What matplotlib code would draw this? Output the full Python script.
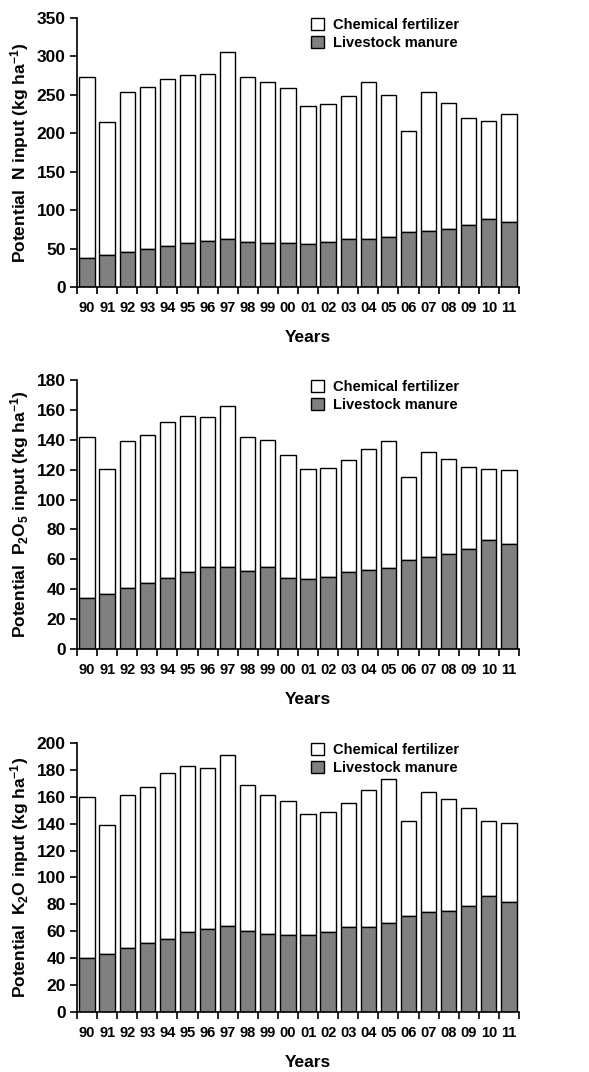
import matplotlib.pyplot as plt
import numpy as np

plt.rcParams['font.family'] = ['Liberation Sans', 'DejaVu Sans']
plt.rcParams['font.weight'] = 'bold'
plt.rcParams['mathtext.fontset'] = 'custom'
plt.rcParams['mathtext.bf'] = 'Liberation Sans:bold'
plt.rcParams['mathtext.rm'] = 'Liberation Sans:bold'
plt.rcParams['mathtext.default'] = 'bf'

years = ["90", "91", "92", "93", "94", "95", "96", "97", "98", "99", "00",
         "01", "02", "03", "04", "05", "06", "07", "08", "09", "10", "11"]

# totals (top of white bar) and manure part
n_total = [273, 215, 254, 260, 270, 276, 277, 305, 273, 266, 259,
           235, 238, 249, 266, 250, 203, 254, 239, 220, 216, 225]
n_manure = [38, 42, 46, 49, 53, 57, 60, 62, 59, 57, 57,
            56, 59, 62, 63, 65, 71, 73, 75, 80, 88, 84]

p_total = [141.5, 120.5, 139, 143, 152, 156, 155, 162.5, 141.5, 139.5, 129.5,
           120.5, 121, 126.5, 133.5, 139, 115, 131.5, 127, 121.5, 120.5, 119.5]
p_manure = [34.3, 36.7, 41, 44.3, 47.5, 51.7, 54.6, 55, 52.2, 54.6, 47.2,
            46.8, 48.4, 51.7, 52.6, 54.2, 59.3, 61.6, 63.6, 66.7, 73, 70.5]

k_total = [159.5, 139, 161.3, 167, 177.7, 183, 181.6, 190.8, 169, 161, 156.6,
           147, 149, 155, 164.8, 173, 142, 163.8, 158.6, 151.4, 142.2, 140.2]
k_manure = [40, 43, 47.4, 50.9, 54.6, 59.3, 62, 63.8, 60.3, 58, 57.3,
            57.3, 59.8, 63.3, 63.3, 65.8, 71.2, 74, 75, 79, 86, 82]

panels = [
    (n_total, n_manure, 350, 50, r"Potential  N input (kg ha$^{-1}$)", 0.7323),
    (p_total, p_manure, 180, 20, r"Potential  P$_2$O$_5$ input (kg ha$^{-1}$)", 0.3946),
    (k_total, k_manure, 200, 20, r"Potential  K$_2$O input (kg ha$^{-1}$)", 0.056),
]

fig = plt.figure(figsize=(5.89, 10.72), dpi=100)

for total, manure, ymax, step, ylabel, bottom in panels:
    ax = fig.add_axes([0.1307, bottom, 0.7504, 0.251])
    x = np.arange(len(years))
    total = np.array(total)
    manure = np.array(manure)
    ax.bar(x, total - manure, bottom=manure, width=0.76, color="white",
           edgecolor="black", linewidth=1.0, label="Chemical fertilizer")
    ax.bar(x, manure, width=0.76, color="#808080",
           edgecolor="black", linewidth=1.0, label="Livestock manure")

    ax.set_xlim(-0.5, len(years) - 0.5)
    ax.set_ylim(0, ymax)
    ax.set_yticks(np.arange(0, ymax + 1, step))
    ax.set_xticks(x)
    ax.set_xticklabels(years)
    ax.set_xticks(np.arange(-0.5, len(years), 1), minor=True)
    ax.tick_params(axis="x", which="major", length=0, pad=10, labelsize=10.5)
    ax.tick_params(axis="x", which="minor", length=5, width=1.2, direction="out")
    ax.tick_params(axis="y", length=5, width=1.2, direction="out", labelsize=12.5, pad=3)
    for lab in ax.get_xticklabels() + ax.get_yticklabels():
        lab.set_fontweight("bold")

    ax.spines["top"].set_visible(False)
    ax.spines["right"].set_visible(False)
    ax.spines["left"].set_linewidth(1.2)
    ax.spines["bottom"].set_linewidth(1.2)

    ax.set_ylabel(ylabel, fontsize=12.5, fontweight="bold")
    ax.yaxis.set_label_coords(-0.104, 0.5)
    ax.set_xlabel("Years", fontsize=12.5, fontweight="bold")
    ax.xaxis.set_label_coords(0.523, -0.16)

    handles, labels = ax.get_legend_handles_labels()
    ax.legend(handles, labels, loc="upper left", bbox_to_anchor=(0.5, 1.05),
              frameon=False, handlelength=0.9, handleheight=0.9,
              handletextpad=0.6, labelspacing=0.3,
              prop={"weight": "bold", "size": 10.5})

fig.savefig("out.png", dpi=100)
